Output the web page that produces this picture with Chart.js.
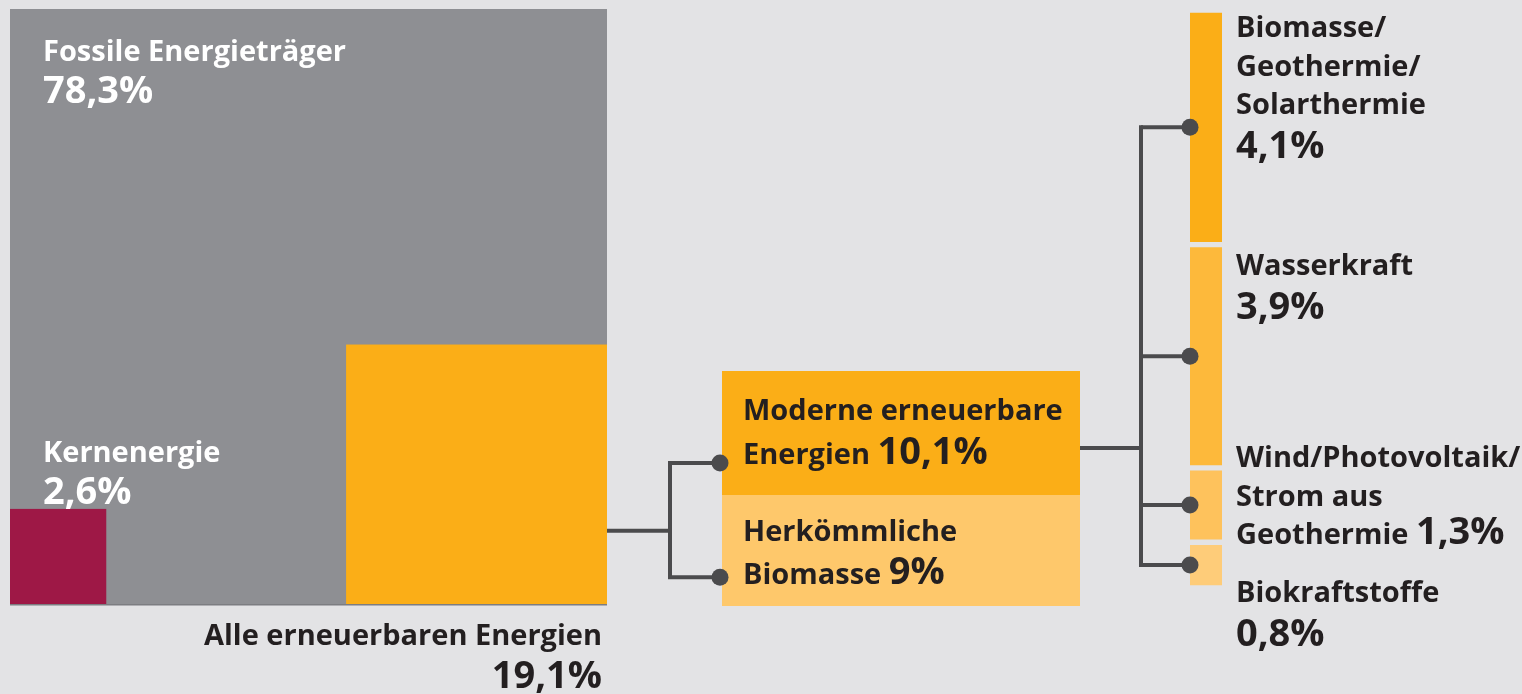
<!DOCTYPE html>
<html lang="de">
<head>
<meta charset="utf-8">
<title>Anteile am Endenergieverbrauch</title>
<script src="https://cdn.jsdelivr.net/npm/chart.js@4/dist/chart.umd.min.js"></script>
<style>
  html, body { margin: 0; padding: 0; background: #e3e3e5; }
  #wrap { position: relative; width: 1522px; height: 694px; overflow: hidden; }
  canvas { position: absolute; top: 0; }
  #total { left: 0; }
  #split { left: 600px; }
  #detail { left: 1075px; }
</style>
</head>
<body>
<div id="wrap">
  <canvas id="total" width="620" height="694"></canvas>
  <canvas id="split" width="545" height="694"></canvas>
  <canvas id="detail" width="447" height="694"></canvas>
</div>
<script>
const BG = '#e3e3e5';
const INK = '#231f20';
const LINE = '#4b4b4d';
const FONT = '"Open Sans", "Noto Sans", sans-serif';

// data
const totalLabels = ['Fossile Energieträger', 'Kernenergie', 'Alle erneuerbaren Energien'];
const totalValues = [78.3, 2.6, 19.1];
const totalColors = ['#8e8f93', '#9e1846', '#fbae17'];

const splitLabels = [['Moderne erneuerbare', 'Energien'], ['Herkömmliche', 'Biomasse']];
const splitValues = [10.1, 9];
const splitColors = ['#fbae17', '#fec86b'];

const detailLabels = [
    ['Biomasse/', 'Geothermie/', 'Solarthermie'],
    ['Wasserkraft'],
    ['Wind/Photovoltaik/', 'Strom aus', 'Geothermie'],
    ['Biokraftstoffe']
];
const detailValues = [4.1, 3.9, 1.3, 0.8];
const detailColors = ['#fbae17', '#fdb93b', '#fec25c', '#fecc79'];

// where the label sits next to its dot, and whether the value stays on the last line
const detailShift = [-90, -81, -38, 37];
const detailInline = [false, false, true, false];

const LABEL = 29, VALUE = 38, WEIGHT = 700;

function pct(v) {
    return v.toLocaleString('de-DE') + '%';
}

function write(ctx, str, x, y, size, color, align) {
    ctx.font = WEIGHT + ' ' + size + 'px ' + FONT;
    ctx.fillStyle = color;
    ctx.textAlign = align || 'left';
    ctx.textBaseline = 'alphabetic';
    ctx.fillText(str, x, y);
    return ctx.measureText(str).width;
}

function dot(ctx, x, y) {
    ctx.beginPath();
    ctx.arc(x, y, 8.5, 0, Math.PI * 2);
    ctx.fillStyle = LINE;
    ctx.fill();
}

function path(ctx, pts) {
    ctx.beginPath();
    ctx.moveTo(pts[0][0], pts[0][1]);
    for (let i = 1; i < pts.length; i++) ctx.lineTo(pts[i][0], pts[i][1]);
    ctx.strokeStyle = LINE;
    ctx.lineWidth = 4;
    ctx.lineCap = 'butt';
    ctx.lineJoin = 'miter';
    ctx.stroke();
}

const common = {
    responsive: false,
    maintainAspectRatio: false,
    animation: false,
    events: [],
    plugins: {legend: {display: false}, tooltip: {enabled: false}}
};

function barBoxes(chart) {
    // top-to-bottom order of the stacked segments
    return chart.data.datasets.map(function (ds, i) {
        const el = chart.getDatasetMeta(i).data[0];
        const p = el.getProps(['x', 'y', 'base', 'width'], true);
        return {top: Math.min(p.y, p.base), bottom: Math.max(p.y, p.base), left: p.x - p.width / 2, right: p.x + p.width / 2, idx: ds.idx};
    }).sort(function (a, b) { return a.idx - b.idx; });
}

function init() {
    // squares: area ~ share of the total
    const side = function (v) { return Math.sqrt(v / 100); };
    const sAll = side(totalValues.reduce(function (a, b) { return a + b; }, 0));
    const sKern = side(totalValues[1]);
    const sErn = side(totalValues[2]);

    const squarePlugin = {
        id: 'squares',
        beforeDatasetsDraw(chart) {
            const ctx = chart.ctx;
            chart.data.datasets.forEach(function (ds, i) {
                const pts = chart.getDatasetMeta(i).data;
                const a = pts[0], b = pts[1];
                ctx.fillStyle = ds.backgroundColor;
                ctx.fillRect(Math.min(a.x, b.x), Math.min(a.y, b.y), Math.abs(b.x - a.x), Math.abs(b.y - a.y));
            });
            const ca = chart.chartArea;
            ctx.fillStyle = '#7c7d81';
            ctx.fillRect(ca.left, ca.bottom - 1, ca.right - ca.left, 1.5);
        },
        afterDatasetsDraw(chart) {
            const ctx = chart.ctx;
            const ca = chart.chartArea;
            write(ctx, totalLabels[0], ca.left + 33, ca.top + 52, LABEL, '#fff');
            write(ctx, pct(totalValues[0]), ca.left + 33, ca.top + 94, VALUE, '#fff');
            write(ctx, totalLabels[1], ca.left + 33, ca.bottom - 143, LABEL, '#fff');
            write(ctx, pct(totalValues[1]), ca.left + 33, ca.bottom - 101, VALUE, '#fff');
            write(ctx, totalLabels[2], ca.right - 5, ca.bottom + 40, LABEL, INK, 'right');
            write(ctx, pct(totalValues[2]), ca.right - 5, ca.bottom + 83, VALUE, INK, 'right');
        }
    };

    new Chart(document.getElementById('total'), {
        type: 'scatter',
        data: {
            datasets: [
                {label: totalLabels[0], data: [{x: 0, y: 0}, {x: sAll, y: sAll}], backgroundColor: totalColors[0]},
                {label: totalLabels[1], data: [{x: 0, y: 0}, {x: sKern, y: sKern}], backgroundColor: totalColors[1]},
                {label: totalLabels[2], data: [{x: sAll - sErn, y: 0}, {x: sAll, y: sErn}], backgroundColor: totalColors[2]}
            ]
        },
        options: Object.assign({}, common, {
            layout: {padding: {left: 10, right: 13, top: 9, bottom: 89}},
            elements: {point: {radius: 0}},
            scales: {
                x: {type: 'linear', min: 0, max: 1, display: false},
                y: {type: 'linear', min: 0, max: 1, display: false}
            }
        }),
        plugins: [squarePlugin]
    });

    // modern vs. traditional renewables
    const splitPlugin = {
        id: 'splitLabels',
        afterDatasetsDraw(chart) {
            const ctx = chart.ctx;
            const boxes = barBoxes(chart);
            const dots = [];
            boxes.forEach(function (b, i) {
                const x = b.left + 21;
                const lines = splitLabels[i];
                const offs = i === 0 ? [49, 93] : [46, 89];
                write(ctx, lines[0], x, b.top + offs[0], LABEL, INK);
                const w = write(ctx, lines[1] + ' ', x, b.top + offs[1], LABEL, INK);
                write(ctx, pct(splitValues[i]), x + w, b.top + offs[1], VALUE, INK);
                dots.push(b.bottom - 0.26 * (b.bottom - b.top));
            });
            const left = boxes[0].left;
            const stemX = left - 52;
            const joinY = boxes[1].bottom - 0.32 * (boxes[1].bottom - boxes[0].top);
            path(ctx, [[left - 115, joinY], [stemX, joinY]]);
            path(ctx, [[left - 2, dots[0]], [stemX, dots[0]], [stemX, dots[1]], [left - 2, dots[1]]]);
            dots.forEach(function (y) { dot(ctx, left - 2, y); });
            // link on to the detail column
            const outY = boxes[0].top + 0.62 * (boxes[0].bottom - boxes[0].top);
            path(ctx, [[boxes[0].right, outY], [boxes[0].right + 63, outY]]);
        }
    };

    new Chart(document.getElementById('split'), {
        type: 'bar',
        data: {
            labels: ['Erneuerbare'],
            datasets: splitValues.map(function (v, i) {
                return {label: splitLabels[i].join(' '), idx: i, data: [v], backgroundColor: splitColors[i], borderWidth: 0};
            }).reverse()
        },
        options: Object.assign({}, common, {
            layout: {padding: {left: 122, right: 65, top: 371, bottom: 88}},
            datasets: {bar: {categoryPercentage: 1, barPercentage: 1}},
            scales: {
                x: {stacked: true, display: false},
                y: {stacked: true, display: false, min: 0, max: splitValues.reduce(function (a, b) { return a + b; }, 0)}
            }
        }),
        plugins: [splitPlugin]
    });

    // breakdown of modern renewables
    const detailPlugin = {
        id: 'detailLabels',
        afterDatasetsDraw(chart) {
            const ctx = chart.ctx;
            const boxes = barBoxes(chart);
            const left = chart.chartArea.left;
            const stemX = left - 49;
            const ys = boxes.map(function (b) { return (b.top + b.bottom) / 2; });
            path(ctx, [[stemX, ys[0] - 2], [stemX, ys[ys.length - 1] + 2]]);
            ys.forEach(function (y) {
                path(ctx, [[stemX, y], [left, y]]);
                dot(ctx, left, y);
            });
            boxes.forEach(function (b, i) {
                const x = chart.chartArea.right + 14;
                let y = ys[i] + detailShift[i];
                const lines = detailLabels[i];
                let w = 0;
                lines.forEach(function (ln, k) {
                    const last = k === lines.length - 1;
                    w = write(ctx, ln + (last && detailInline[i] ? ' ' : ''), x, y, LABEL, INK);
                    if (!last) y += 38.5;
                });
                if (detailInline[i]) {
                    write(ctx, pct(detailValues[i]), x + w, y, VALUE, INK);
                } else {
                    write(ctx, pct(detailValues[i]), x, y + 44, VALUE, INK);
                }
            });
        }
    };

    new Chart(document.getElementById('detail'), {
        type: 'bar',
        data: {
            labels: ['Moderne erneuerbare Energien'],
            datasets: detailValues.map(function (v, i) {
                return {
                    label: detailLabels[i].join(' '), idx: i, data: [v],
                    backgroundColor: detailColors[i],
                    borderColor: BG,
                    borderWidth: {top: 3, bottom: 3, left: 0, right: 0},
                    borderSkipped: false
                };
            }).reverse()
        },
        options: Object.assign({}, common, {
            layout: {padding: {left: 115, right: 300, top: 10, bottom: 106}},
            datasets: {bar: {categoryPercentage: 1, barPercentage: 1}},
            scales: {
                x: {stacked: true, display: false},
                y: {stacked: true, display: false, min: 0, max: detailValues.reduce(function (a, b) { return a + b; }, 0)}
            }
        }),
        plugins: [detailPlugin]
    });
}

document.fonts.load(WEIGHT + ' 29px "Open Sans"').then(init, init);
</script>
</body>
</html>
